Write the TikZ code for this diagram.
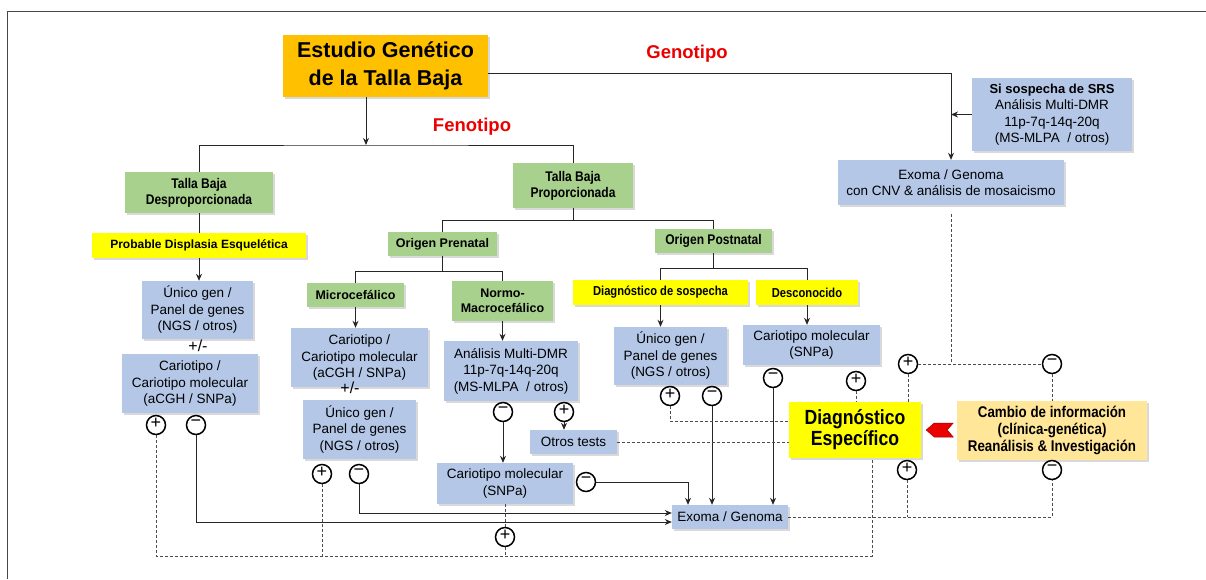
\documentclass[tikz,border=0pt]{standalone}
\usepackage{fontspec}
\setmainfont{Liberation Sans}
\newfontfamily\narrowfont[FakeStretch=0.86]{Liberation Sans}
\usetikzlibrary{calc,shadows,arrows.meta}

\newlength{\du}
\setlength{\du}{1pt}

\definecolor{dialblue}{RGB}{180,199,231}
\definecolor{dialgreen}{RGB}{169,209,142}
\definecolor{dialyellow}{RGB}{255,255,0}
\definecolor{dialorange}{RGB}{255,192,0}
\definecolor{dialpeach}{RGB}{255,230,153}
\definecolor{dialred}{RGB}{235,0,0}
\definecolor{framecol}{RGB}{70,70,70}

\newcommand{\plussign}{\raisebox{2.5pt}{+}}
\newcommand{\minussign}{\raisebox{3.5pt}{\textminus}}

\tikzset{
  shadowed/.style={drop shadow={shadow xshift=1.5pt, shadow yshift=-2pt, opacity=0.3}},
  boxbase/.style={rectangle, inner sep=0pt, align=center, shadowed},
  titlebox/.style={boxbase, fill=dialorange, font=\bfseries\fontsize{21.5}{28}\selectfont},
  bluebox/.style={boxbase, fill=dialblue, font=\fontsize{13.5}{16.5}\selectfont},
  greenbox/.style={boxbase, fill=dialgreen, font=\bfseries\fontsize{12.5}{15.5}\selectfont},
  greennarrow/.style={boxbase, fill=dialgreen, font=\narrowfont\bfseries\fontsize{14}{16}\selectfont},
  yellowbox/.style={boxbase, fill=dialyellow, font=\bfseries\fontsize{12}{14}\selectfont},
  yellownarrow/.style={boxbase, fill=dialyellow, font=\narrowfont\bfseries\fontsize{13}{15}\selectfont},
  diagbox/.style={boxbase, fill=dialyellow, font=\narrowfont\bfseries\fontsize{20.5}{21}\selectfont},
  peachbox/.style={boxbase, fill=dialpeach, font=\narrowfont\bfseries\fontsize{15.5}{17}\selectfont},
  redlabel/.style={inner sep=0pt, text=dialred, font=\bfseries\fontsize{18.5}{20}\selectfont},
  pmtext/.style={inner sep=0pt, font=\fontsize{16}{16}\selectfont},
  pmcircle/.style={circle, draw=black, line width=1.5pt, minimum size=19pt, inner sep=0pt, fill=white, font=\fontsize{18}{18}\selectfont},
  connector/.style={draw=black!85, line width=0.9pt},
  arrowline/.style={connector, -{Stealth[length=7pt,width=6pt]}},
  dashline/.style={draw=black!70, line width=0.9pt, dash pattern=on 3pt off 2pt}
}

\begin{document}
\begin{tikzpicture}
\pgftransformyscale{-1.000000}
\useasboundingbox (0\du,0\du) rectangle (1206\du,579\du);
\draw[framecol, line width=1pt] (7\du,579\du) -- (7\du,11\du) -- (1206\du,11\du);

% header
\node[titlebox, minimum width=205\du, minimum height=62\du] (estudio) at (385.5\du,66\du) {Estudio Genético\\de la Talla Baja};
\node[redlabel] (genotipo) at (687\du,54\du) {Genotipo};
\node[redlabel] (fenotipo) at (472\du,127\du) {Fenotipo};
\node[bluebox, minimum width=160\du, minimum height=73\du] (srs) at (1052\du,114.5\du) {{\bfseries\fontsize{13}{16.5}\selectfont Si sospecha de SRS}\\Análisis Multi-DMR\\11p-7q-14q-20q\\(MS-MLPA~ / otros)};
\node[bluebox, minimum width=226\du, minimum height=45\du] (exomacnv) at (951\du,182.5\du) {Exoma / Genoma\\con CNV \& análisis de mosaicismo};

% fenotipo tree
\node[greennarrow, minimum width=148\du, minimum height=41\du] (desprop) at (199\du,192.5\du) {Talla Baja\\Desproporcionada};
\node[greennarrow, minimum width=120\du, minimum height=45\du] (prop) at (573\du,185.5\du) {Talla Baja\\Proporcionada};
\node[yellowbox, minimum width=214\du, minimum height=25\du] (displasia) at (199\du,245.5\du) {Probable Displasia Esquelética};
\node[greenbox, minimum width=109\du, minimum height=24\du] (prenatal) at (442.5\du,244\du) {Origen Prenatal};
\node[greennarrow, minimum width=117\du, minimum height=24\du] (postnatal) at (713.5\du,241\du) {Origen Postnatal};
\node[greenbox, minimum width=97\du, minimum height=24\du] (micro) at (355.5\du,295\du) {Microcefálico};
\node[greenbox, minimum width=101\du, minimum height=40\du] (normo) at (502.5\du,301\du) {Normo-\\Macrocefálico};
\node[yellownarrow, minimum width=175\du, minimum height=25\du] (sospecha) at (660.5\du,292.5\du) {Diagnóstico de sospecha};
\node[yellownarrow, minimum width=102\du, minimum height=25\du] (descon) at (807\du,292.5\du) {Desconocido};

% tests
\node[bluebox, minimum width=111\du, minimum height=58\du] (unico1) at (197.5\du,310\du) {Único gen /\\Panel de genes\\(NGS / otros)};
\node[pmtext] (pm1) at (198\du,346\du) {+/-};
\node[bluebox, minimum width=136\du, minimum height=59\du] (cario1) at (190\du,383.5\du) {Cariotipo /\\Cariotipo molecular\\(aCGH / SNPa)};
\node[bluebox, minimum width=137\du, minimum height=59\du] (cario2) at (359.5\du,357.5\du) {Cariotipo /\\Cariotipo molecular\\(aCGH / SNPa)};
\node[pmtext] (pm2) at (350\du,388\du) {+/-};
\node[bluebox, minimum width=113\du, minimum height=59\du] (unico2) at (359.5\du,429.5\du) {Único gen /\\Panel de genes\\(NGS / otros)};
\node[bluebox, minimum width=134\du, minimum height=60\du] (dmr) at (511\du,371\du) {Análisis Multi-DMR\\11p-7q-14q-20q\\(MS-MLPA~ / otros)};
\node[bluebox, minimum width=87\du, minimum height=24\du] (otros) at (573.5\du,442\du) {Otros tests};
\node[bluebox, minimum width=136\du, minimum height=41\du] (cario3) at (505\du,483.5\du) {Cariotipo molecular\\(SNPa)};
\node[bluebox, minimum width=116\du, minimum height=24\du] (exoma2) at (730\du,517\du) {Exoma / Genoma};
\node[bluebox, minimum width=113\du, minimum height=58\du] (unico3) at (670.5\du,356\du) {Único gen /\\Panel de genes\\(NGS / otros)};
\node[bluebox, minimum width=137\du, minimum height=40\du] (cario4) at (811.5\du,345\du) {Cariotipo molecular\\(SNPa)};
\node[diagbox, minimum width=132\du, minimum height=56\du] (diag) at (855\du,430\du) {Diagnóstico\\Específico};
\node[peachbox, minimum width=190\du, minimum height=59\du] (cambio) at (1052\du,430.5\du) {Cambio de información\\(clínica-genética)\\Reanálisis \& Investigación};

% result circles
\node[pmcircle] (c1pos) at (156\du,425\du) {\plussign};
\node[pmcircle] (c1neg) at (196\du,425\du) {\minussign};
\node[pmcircle] (c2pos) at (322\du,474\du) {\plussign};
\node[pmcircle] (c2neg) at (359\du,474\du) {\minussign};
\node[pmcircle] (dmrneg) at (503\du,412\du) {\minussign};
\node[pmcircle] (dmrpos) at (564\du,412\du) {\plussign};
\node[pmcircle] (c3neg) at (586\du,482\du) {\minussign};
\node[pmcircle] (c3pos) at (505\du,537\du) {\plussign};
\node[pmcircle] (u3pos) at (670\du,396\du) {\plussign};
\node[pmcircle] (u3neg) at (712\du,396\du) {\minussign};
\node[pmcircle] (c4neg) at (773\du,378\du) {\minussign};
\node[pmcircle] (c4pos) at (856\du,381\du) {\plussign};
\node[pmcircle] (c5pos) at (908\du,364\du) {\plussign};
\node[pmcircle] (c5neg) at (1052\du,364\du) {\minussign};
\node[pmcircle] (c6pos) at (907\du,470\du) {\plussign};
\node[pmcircle] (c6neg) at (1052\du,470\du) {\minussign};

% tree connectors
\coordinate (fenojoin) at (366\du,145\du);
\draw[arrowline] (estudio.south -| fenojoin) -- (fenojoin);
\draw[connector] (desprop.north) |- (fenojoin) -| (prop.north);
\draw[connector] (desprop.south) -- (displasia.north);
\draw[arrowline] (displasia.south) -- (displasia.south |- unico1.north);
\draw[connector] (prop.south) -- ++(0,12\du) coordinate (propjoin);
\draw[connector] (prenatal.north) |- (propjoin) -| (postnatal.north);
\draw[connector] (prenatal.south) -- ++(0,15\du) coordinate (prejoin);
\draw[connector] (micro.north) |- (prejoin) -| (normo.north);
\draw[connector] (postnatal.south) -- ++(0,15\du) coordinate (postjoin);
\draw[connector] (sospecha.north) |- (postjoin) -| (descon.north);
\draw[arrowline] (micro.south) -- (micro.south |- cario2.north);
\draw[arrowline] (normo.south) -- (normo.south |- dmr.north);
\draw[arrowline] (sospecha.south) -- (sospecha.south |- unico3.north);
\draw[arrowline] (descon.south) -- (descon.south |- cario4.north);

% genotipo
\draw[arrowline] ($(estudio.east)+(0,7\du)$) -| (exomacnv.north);
\draw[arrowline] (srs.west) -- (srs.west -| exomacnv.north);

% solid paths to exoma / genoma
\draw[arrowline] (dmrpos.south) -- (dmrpos.south |- otros.north);
\draw[arrowline] (dmrneg.south) -- (dmrneg.south |- cario3.north);
\draw[arrowline] (c3neg.east) -| ($(exoma2.north)+(-42\du,0)$);
\draw[arrowline] (c1neg.south) |- ($(exoma2.west)+(0,5\du)$);
\draw[arrowline] (c2neg.south) |- ($(exoma2.west)+(0,-4\du)$);
\draw[arrowline] (u3neg.south) -- (u3neg.south |- exoma2.north);
\draw[arrowline] (c4neg.south) -- (c4neg.south |- exoma2.north);

% dashed paths
\coordinate (bottomrow) at (0\du,556\du);
\coordinate (diagdrop) at ($(diag.south)+(17\du,0)$);
\draw[dashline] (c1pos.south) |- (diagdrop |- bottomrow) -- (diagdrop);
\draw[dashline] (c2pos.south) -- (c2pos.south |- bottomrow);
\draw[dashline] (cario3.south) -- (c3pos.north);
\draw[dashline] (c3pos.south) -- (c3pos.south |- bottomrow);
\draw[dashline] (u3pos.south) |- ($(diag.west)+(0,-9\du)$);
\draw[dashline] (otros.east) -- (otros.east -| diag.west);
\draw[dashline] (c4pos.south) -- (c4pos.south |- diag.north);
\draw[dashline, shorten <=9pt] (exomacnv.south) -- (exomacnv.south |- c5pos.east);
\draw[dashline] (c5pos.east) -- (c5neg.west);
\draw[dashline] (c5pos.south) -- (c5pos.south |- diag.north);
\draw[dashline] (c5neg.south) -- (c5neg.south |- cambio.north);
\draw[dashline] (exoma2.east) -| (c6neg.south);
\draw[dashline] (c6pos.south) -- (c6pos.south |- exoma2.east);

% red chevron
\fill[dialred, draw=dialred!70!black, line width=0.5pt] ($(diag.east)+(5\du,0)$) -- ++(8\du,-7\du) -- ++(19\du,0) -- ++(-6\du,7\du) -- ++(6\du,7\du) -- ++(-19\du,0) -- cycle;
\end{tikzpicture}
\end{document}
